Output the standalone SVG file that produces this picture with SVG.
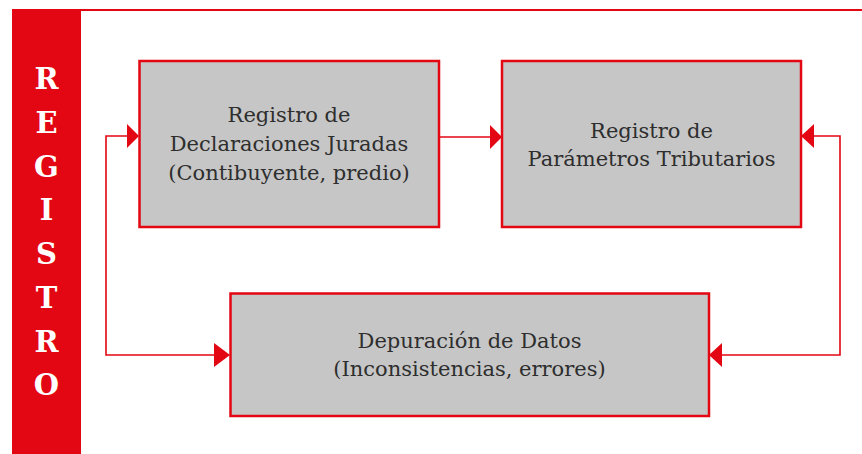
<svg xmlns="http://www.w3.org/2000/svg" width="862" height="454" viewBox="0 0 862 454">
<defs>
<style>
.box{fill:#c6c6c6;stroke:#e30613;stroke-width:2.5}
.t{font-family:"DejaVu Serif","Liberation Serif",serif;font-size:21px;fill:#2e2e2e;text-anchor:middle}
.side{font-family:"DejaVu Serif","Liberation Serif",serif;font-weight:bold;font-size:29px;fill:#ffffff;text-anchor:middle}
.ln{fill:none;stroke:#e30613;stroke-width:1.6}
.ah{fill:#e30613}
</style>
</defs>
<rect x="0" y="0" width="862" height="454" fill="#ffffff"/>
<g id="frame">
<rect x="12" y="9" width="69" height="445" fill="#e30613"/>
<line x1="81" y1="10" x2="862" y2="10" stroke="#e30613" stroke-width="2"/>
</g>
<g id="sidebar-title">
<text class="side" x="46.5" y="89">R</text>
<text class="side" x="46.5" y="133">E</text>
<text class="side" x="46.5" y="177">G</text>
<text class="side" x="46.5" y="220">I</text>
<text class="side" x="46.5" y="264">S</text>
<text class="side" x="46.5" y="308">T</text>
<text class="side" x="46.5" y="352">R</text>
<text class="side" x="46.5" y="395">O</text>
</g>
<g id="connectors">
<line class="ln" x1="439" y1="137" x2="491" y2="137"/>
<polygon class="ah" points="490,125 502,137 490,149"/>
<polyline class="ln" points="218,355 106,355 106,136 128,136"/>
<polygon class="ah" points="127,124 139,136 127,148"/>
<polygon class="ah" points="214,343 230,355 214,367"/>
<polyline class="ln" points="813,136 840,136 840,355 721,355"/>
<polygon class="ah" points="814,124 801,136 814,148"/>
<polygon class="ah" points="722,343 709,355 722,367"/>
</g>
<g id="node-declaraciones">
<rect class="box" x="139.5" y="61" width="299.5" height="166"/>
<text class="t" x="289" y="122">Registro de</text>
<text class="t" x="289" y="151">Declaraciones Juradas</text>
<text class="t" x="289" y="180">(Contibuyente, predio)</text>
</g>
<g id="node-parametros">
<rect class="box" x="502" y="61" width="299" height="166"/>
<text class="t" x="651.5" y="138">Registro de</text>
<text class="t" x="651.5" y="166">Parámetros Tributarios</text>
</g>
<g id="node-depuracion">
<rect class="box" x="230.5" y="293.5" width="478.5" height="122.5"/>
<text class="t" x="469.5" y="348">Depuración de Datos</text>
<text class="t" x="469.5" y="376">(Inconsistencias, errores)</text>
</g>
</svg>
